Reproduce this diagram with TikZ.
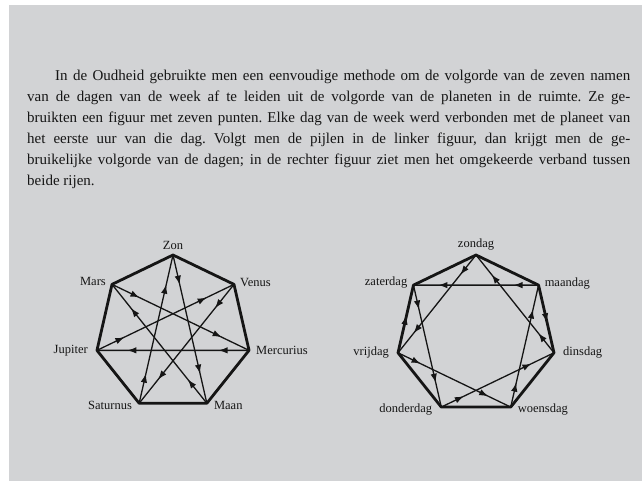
\documentclass[tikz,border=0pt]{standalone}
\usepackage{fontspec}
\setmainfont{Liberation Serif}
\usetikzlibrary{decorations.markings,arrows.meta,calc}
\definecolor{page}{HTML}{D2D3D5}
\definecolor{ink}{HTML}{151515}
\tikzset{
  rim/.style={draw=ink,line width=2.8pt,line join=round},
  chord/.style={draw=ink,line width=1.3pt},
  twoarrows/.style={postaction={decorate},decoration={markings,
     mark=at position 0.2 with {\arrow{Latex[length=9pt,width=6.5pt]}},
     mark=at position 0.8 with {\arrow{Latex[length=9pt,width=6.5pt]}}}},
  onearrow/.style={postaction={decorate},decoration={markings,
     mark=at position 0.55 with {\arrow{Latex[length=9pt,width=6.5pt]}}}},
  lab/.style={font=\fontsize{12.5}{13}\selectfont,text=ink,inner sep=1pt},
  para/.style={font=\fontsize{15}{21}\selectfont\frenchspacing,text=ink,text width=603pt,align=justify,inner sep=0pt}
}
\begin{document}
\begin{tikzpicture}[x=1pt,y=-1pt]
\useasboundingbox (0,0) rectangle (642,486);
\fill[white] (0,0) rectangle (642,486);
\fill[page] (9,5) rectangle (642,481);
\node[para,anchor=north west] (text) at (27,70) {\hspace*{28pt}In de Oudheid gebruikte men een eenvoudige methode om de volgorde van de zeven namen\linebreak
van de dagen van de week af te leiden uit de volgorde van de planeten in de ruimte. Ze ge-\linebreak
bruikten een figuur met zeven punten. Elke dag van de week werd verbonden met de planeet van\linebreak
het eerste uur van die dag. Volgt men de pijlen in de linker figuur, dan krijgt men de ge-\linebreak
bruikelijke volgorde van de dagen; in de rechter figuur ziet men het omgekeerde verband tussen\linebreak
beide rijen.};
% vertices
\foreach \k in {0,...,6}{
  \coordinate (L\k) at ($(173,333)+({-90+\k*360/7}:78)$);
  \coordinate (R\k) at ($(476,335)+({-90+\k*360/7}:80)$);
}
% left: planets
\draw[rim] (L0)--(L1)--(L2)--(L3)--(L4)--(L5)--(L6)--cycle;
\foreach \a/\b in {0/3,3/6,6/2,2/5,5/1,1/4,4/0}
  \draw[chord,twoarrows] (L\a) -- (L\b);
\node[lab,anchor=south] (zon) at ($(L0)+(0,-4)$) {Zon};
\node[lab,anchor=west] (venus) at ($(L1)+(5,-2)$) {Venus};
\node[lab,anchor=west] (mercurius) at ($(L2)+(6,0)$) {Mercurius};
\node[lab,anchor=west] (maan) at ($(L3)+(6,2)$) {Maan};
\node[lab,anchor=east] (saturnus) at ($(L4)+(-6,2)$) {Saturnus};
\node[lab,anchor=east] (jupiter) at ($(L5)+(-8,0)$) {Jupiter};
\node[lab,anchor=east] (mars) at ($(L6)+(-5,-3)$) {Mars};
% right: days
\draw[rim] (R0)--(R1)--(R2)--(R3)--(R4)--(R5)--(R6)--cycle;
\draw[chord,onearrow] (R1) -- (R2);
\draw[chord,onearrow] (R5) -- (R6);
\foreach \a/\b in {0/5,5/3,3/1,1/6,6/4,4/2,2/0}
  \draw[chord,twoarrows] (R\a) -- (R\b);
\node[lab,anchor=south] (zondag) at ($(R0)+(0,-4)$) {zondag};
\node[lab,anchor=west] (maandag) at ($(R1)+(5,-2)$) {maandag};
\node[lab,anchor=west] (dinsdag) at ($(R2)+(8,0)$) {dinsdag};
\node[lab,anchor=west] (woensdag) at ($(R3)+(6,2)$) {woensdag};
\node[lab,anchor=east] (donderdag) at ($(R4)+(-8,2)$) {donderdag};
\node[lab,anchor=east] (vrijdag) at ($(R5)+(-8,0)$) {vrijdag};
\node[lab,anchor=east] (zaterdag) at ($(R6)+(-5,-3)$) {zaterdag};
\end{tikzpicture}
\end{document}
